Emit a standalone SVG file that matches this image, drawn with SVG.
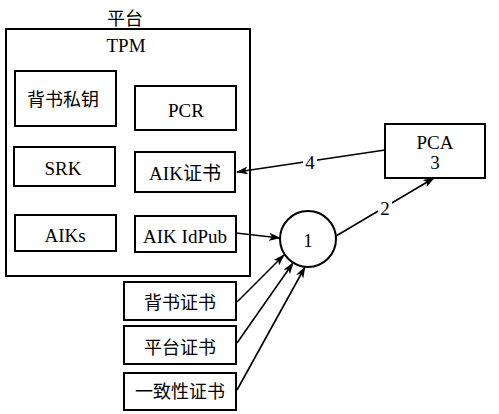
<svg xmlns="http://www.w3.org/2000/svg" width="499" height="414" viewBox="0 0 499 414">
<style>
.box{fill:#fff;stroke:#000;stroke-width:2}
.t{font-family:"Liberation Serif","Noto Sans CJK SC",serif;font-size:19px;fill:#000;text-anchor:middle;dominant-baseline:central}
.c{font-family:"Noto Sans CJK SC","Liberation Serif",sans-serif;font-size:18px;fill:#000;text-anchor:middle;dominant-baseline:central}
.ln{stroke:#000;stroke-width:1.6;fill:none;marker-end:url(#ah)}
</style>
<defs>
<marker id="ah" viewBox="0 0 12 8" refX="11" refY="4" markerWidth="12" markerHeight="8" markerUnits="userSpaceOnUse" orient="auto">
<path d="M0,0 L12,4 L0,8 L3,4 Z" fill="#000"/>
</marker>
</defs>
<rect width="499" height="414" fill="#fff"/>
<g id="platform">
<rect class="box" x="6" y="29" width="244" height="247"/>
<text class="c" x="125" y="17">平台</text>
<text class="t" x="126" y="45">TPM</text>
</g>
<g id="ek"><rect class="box" x="15" y="71" width="101" height="55"/><text class="c" x="63" y="98">背书私钥</text></g>
<g id="pcr"><rect class="box" x="135" y="86" width="101" height="44"/><text class="t" x="186" y="110">PCR</text></g>
<g id="srk"><rect class="box" x="14" y="147" width="101" height="39"/><text class="t" x="63" y="168">SRK</text></g>
<g id="aikcert"><rect class="box" x="135" y="152" width="100" height="40"/><text class="t" x="185" y="173">AIK证书</text></g>
<g id="aiks"><rect class="box" x="15" y="215" width="101" height="36"/><text class="t" x="65" y="235">AIKs</text></g>
<g id="aikidpub"><rect class="box" x="135" y="216" width="101" height="36"/><text class="t" x="185" y="236">AIK IdPub</text></g>
<g id="pca"><rect class="box" x="385" y="124" width="100" height="54"/><text class="t" x="435" y="142">PCA</text><text class="t" x="435" y="162">3</text></g>
<g id="n1"><circle class="box" cx="308" cy="239" r="28"/><text class="t" x="308" y="240">1</text></g>
<g id="ekcert"><rect class="box" x="124" y="282" width="112" height="38"/><text class="c" x="180" y="301">背书证书</text></g>
<g id="platcert"><rect class="box" x="124" y="326" width="112" height="38"/><text class="c" x="180" y="346">平台证书</text></g>
<g id="confcert"><rect class="box" x="124" y="373" width="112" height="37"/><text class="c" x="180" y="390">一致性证书</text></g>
<g id="connectors">
<line class="ln" x1="385" y1="150" x2="237" y2="172"/>
<line class="ln" x1="336" y1="236" x2="434" y2="178"/>
<line class="ln" x1="236" y1="233" x2="280" y2="238"/>
<line class="ln" x1="237" y1="302" x2="284" y2="255"/>
<line class="ln" x1="237" y1="343" x2="293" y2="263"/>
<line class="ln" x1="237" y1="390" x2="305" y2="267"/>
<rect x="303" y="153" width="14" height="18" fill="#fff"/>
<text class="t" x="310" y="162">4</text>
<rect x="378" y="199" width="14" height="18" fill="#fff"/>
<text class="t" x="385" y="208">2</text>
</g>
</svg>
